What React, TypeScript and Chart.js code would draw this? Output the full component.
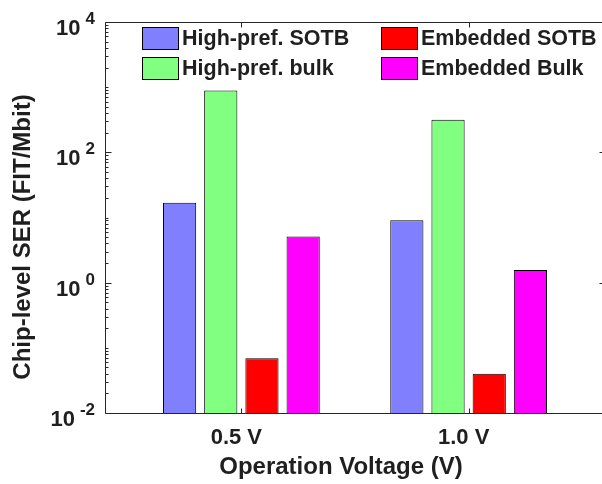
import React, { useEffect, useRef } from 'react';
import { Chart, registerables } from 'chart.js';

Chart.register(...registerables);

const categories = ['0.5 V', '1.0 V'];
const categoryPositions = [1, 2];
const seriesNames = ['High-pref. SOTB', 'High-pref. bulk', 'Embedded SOTB', 'Embedded Bulk'];
const highPrefSOTB = [16.9, 9.1];
const highPrefBulk = [890, 316];
const embeddedSOTB = [0.069, 0.040];
const embeddedBulk = [5.1, 1.57];
const seriesColors = ['#8080FF', '#80FF80', '#FF0000', '#FF00FF'];
const yTickExponents = [4, 2, 0, -2];
const xTitle = 'Operation Voltage (V)';
const yTitle = 'Chip-level SER (FIT/Mbit)';

const seriesValues = [highPrefSOTB, highPrefBulk, embeddedSOTB, embeddedBulk];

const FONT = '"Liberation Sans", Arial, Helvetica, sans-serif';
const TEXT = '#1f1f1f';
const AXIS = '#262626';

const framePlugin = {
  id: 'frame',
  afterDatasetsDraw(chart: any) {
    const { ctx, chartArea: a, scales } = chart;
    const x = scales.x;
    const y = scales.y;
    const L = Math.round(a.left) + 0.5;
    const R = Math.round(a.right) + 0.5;
    const T = Math.round(a.top) + 0.5;
    const B = Math.round(a.bottom) + 0.5;
    ctx.save();
    ctx.strokeStyle = AXIS;
    ctx.lineWidth = 1;
    ctx.beginPath();
    ctx.rect(L, T, R - L, B - T);
    const eMin = Math.round(Math.log10(y.min));
    const eMax = Math.round(Math.log10(y.max));
    for (let e = eMin; e <= eMax; e++) {
      for (let m = 1; m <= 9; m++) {
        const v = m * Math.pow(10, e);
        if (v > y.max * 1.0001) break;
        const py = Math.round(y.getPixelForValue(v)) + 0.5;
        const major = m === 1 && yTickExponents.includes(e);
        const len = major ? 6 : 3;
        ctx.moveTo(L, py);
        ctx.lineTo(L + len, py);
        ctx.moveTo(R, py);
        ctx.lineTo(R - len, py);
      }
    }
    categoryPositions.forEach((c) => {
      const px = Math.round(x.getPixelForValue(c)) + 0.5;
      ctx.moveTo(px, B);
      ctx.lineTo(px, B - 5);
      ctx.moveTo(px, T);
      ctx.lineTo(px, T + 5);
    });
    ctx.stroke();
    ctx.restore();
  },
  afterDraw(chart: any) {
    const { ctx, scales } = chart;
    const x = scales.x;
    const y = scales.y;
    ctx.save();
    ctx.fillStyle = TEXT;
    yTickExponents.forEach((e) => {
      const py = y.getPixelForValue(Math.pow(10, e));
      const base = '10';
      const exp = String(e);
      ctx.font = `bold 22px ${FONT}`;
      const wb = ctx.measureText(base).width;
      ctx.font = `bold 17px ${FONT}`;
      const we = ctx.measureText(exp).width;
      const right = 95;
      const gap = 5;
      const xb = right - we - gap - wb;
      ctx.textBaseline = 'alphabetic';
      ctx.textAlign = 'left';
      ctx.font = `bold 22px ${FONT}`;
      ctx.fillText(base, xb, py + 13);
      ctx.font = `bold 17px ${FONT}`;
      ctx.fillText(exp, xb + wb + gap, py + 2);
    });
    ctx.font = `bold 22px ${FONT}`;
    ctx.textAlign = 'center';
    ctx.textBaseline = 'middle';
    categories.forEach((c, i) => {
      const px = x.getPixelForValue(categoryPositions[i]);
      ctx.fillText(c, px - 5, 438);
    });
    ctx.font = `bold 24px ${FONT}`;
    ctx.fillText(xTitle, 341, 467);
    ctx.save();
    ctx.translate(23, 237);
    ctx.rotate(-Math.PI / 2);
    ctx.fillText(yTitle, 0, 0);
    ctx.restore();
    const colX = [142, 381];
    const rowY = [27, 57];
    seriesNames.forEach((name, i) => {
      const col = Math.floor(i / 2);
      const row = i % 2;
      const bx = colX[col];
      const by = rowY[row];
      ctx.fillStyle = seriesColors[i];
      ctx.fillRect(bx, by, 36, 22);
      ctx.strokeStyle = '#000';
      ctx.lineWidth = 1;
      ctx.strokeRect(bx + 0.5, by + 0.5, 36, 22);
      ctx.fillStyle = TEXT;
      ctx.font = `bold 21.5px ${FONT}`;
      ctx.textAlign = 'left';
      ctx.textBaseline = 'middle';
      ctx.fillText(name, bx + 40, by + 12);
    });
    ctx.restore();
  },
};

export default function App() {
  const ref = useRef<HTMLCanvasElement | null>(null);
  useEffect(() => {
    if (!ref.current) return;
    const chart = new Chart(ref.current, {
      type: 'bar',
      data: {
        datasets: seriesNames.map((name, i) => ({
          label: name,
          data: categoryPositions.map((c, j) => ({ x: c, y: seriesValues[i][j] })),
          backgroundColor: seriesColors[i],
          borderColor: '#000',
          borderWidth: 1,
          categoryPercentage: 0.725,
          barPercentage: 0.806,
        })),
      },
      options: {
        responsive: false,
        animation: false,
        layout: { padding: { left: 105, right: 15, top: 22, bottom: 71 } },
        plugins: { legend: { display: false }, tooltip: { enabled: false } },
        scales: {
          x: {
            type: 'linear',
            display: false,
            offset: false,
            min: 0.4,
            max: 2.6,
            afterBuildTicks: (s: any) => {
              s.ticks = categoryPositions.map((v) => ({ value: v }));
            },
          },
          y: { type: 'logarithmic', display: false, min: 0.01, max: 10000 },
        },
      },
      plugins: [framePlugin],
    } as any);
    return () => chart.destroy();
  }, []);
  return (
    <div style={{ position: 'absolute', left: 0, top: 0, width: 602, height: 484, overflow: 'hidden', background: '#fff' }}>
      <canvas ref={ref} width={620} height={484} style={{ width: 620, height: 484, display: 'block' }} />
    </div>
  );
}
